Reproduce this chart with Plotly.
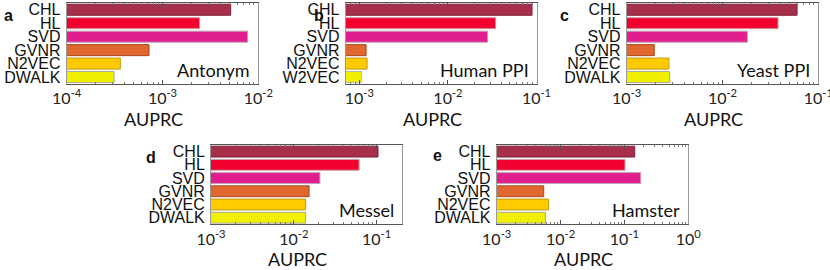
import plotly.graph_objects as go
import math

W, H = 830, 270

# ---------------- data ----------------
methods_a = ["CHL", "HL", "SVD", "GVNR", "N2VEC", "DWALK"]
values_a = [0.00515, 0.00244, 0.00774, 0.000723, 0.000363, 0.000312]

methods_b = ["CHL", "HL", "SVD", "GVNR", "N2VEC", "W2VEC"]
values_b = [0.089, 0.0345, 0.028, 0.00119, 0.00122, 0.00106]

methods_c = ["CHL", "HL", "SVD", "GVNR", "N2VEC", "DWALK"]
values_c = [0.060, 0.038, 0.0182, 0.00194, 0.00276, 0.00281]

methods_d = ["CHL", "HL", "SVD", "GVNR", "N2VEC", "DWALK"]
values_d = [0.104, 0.0615, 0.0207, 0.0153, 0.0139, 0.0139]

methods_e = ["CHL", "HL", "SVD", "GVNR", "N2VEC", "DWALK"]
values_e = [0.145, 0.102, 0.18, 0.00545, 0.0065, 0.0058]

datasets = ["Antonym", "Human PPI", "Yeast PPI", "Messel", "Hamster"]
panel_letters = ["a", "b", "c", "d", "e"]
x_title = "AUPRC"

ticks_a = [1e-4, 1e-3, 1e-2]
ticks_b = [1e-3, 1e-2, 1e-1]
ticks_c = [1e-3, 1e-2, 1e-1]
ticks_d = [1e-3, 1e-2, 1e-1]
ticks_e = [1e-3, 1e-2, 1e-1, 1e0]
ticktext_a = ["10<sup>-4</sup>", "10<sup>-3</sup>", "10<sup>-2</sup>"]
ticktext_b = ["10<sup>-3</sup>", "10<sup>-2</sup>", "10<sup>-1</sup>"]
ticktext_c = ["10<sup>-3</sup>", "10<sup>-2</sup>", "10<sup>-1</sup>"]
ticktext_d = ["10<sup>-3</sup>", "10<sup>-2</sup>", "10<sup>-1</sup>"]
ticktext_e = ["10<sup>-3</sup>", "10<sup>-2</sup>", "10<sup>-1</sup>", "10<sup>0</sup>"]

xlim_a = [1e-4, 1e-2]
xlim_b = [7e-4, 1e-1]
xlim_c = [1e-3, 1e-1]
xlim_d = [1e-3, 0.2]
xlim_e = [1e-3, 1e0]

# ---------------- styles ----------------
fill = {"CHL": "#a82f4c", "HL": "#f2002e", "SVD": "#e01e8e", "GVNR": "#e0672f",
        "N2VEC": "#ffcb00", "W2VEC": "#f0f000", "DWALK": "#f0f000"}
edge = {"CHL": "#7d2036", "HL": "#c9a0a8", "SVD": "#c0a0b4", "GVNR": "#a84a1c",
        "N2VEC": "#c49a10", "W2VEC": "#b8b8a0", "DWALK": "#a8a890"}

# panel boxes in pixels: (left, right, top, bottom)
boxes = [(66.7, 258.3, 3.0, 83.8), (345.7, 536.5, 3.0, 83.8), (626.7, 818.3, 3.0, 83.8),
         (211.0, 401.5, 145.0, 224.3), (496.7, 688.3, 145.0, 224.3)]
letter_pos = [(8, 15), (319, 16), (564, 15), (151, 157), (437, 156)]

panels = [
    (methods_a, values_a, ticks_a, ticktext_a, xlim_a),
    (methods_b, values_b, ticks_b, ticktext_b, xlim_b),
    (methods_c, values_c, ticks_c, ticktext_c, xlim_c),
    (methods_d, values_d, ticks_d, ticktext_d, xlim_d),
    (methods_e, values_e, ticks_e, ticktext_e, xlim_e),
]

def px(x):
    return x / W

def py(y):
    return 1 - y / H

fig = go.Figure()
annotations = []
LABEL_FONT = "Lato"

for i, (meths, vals, tv, tt, lim) in enumerate(panels):
    n = i + 1
    xa = "x" if n == 1 else f"x{n}"
    ya = "y" if n == 1 else f"y{n}"
    fig.add_trace(go.Bar(
        x=vals, y=meths, orientation="h", xaxis=xa, yaxis=ya,
        marker=dict(color=[fill[m] for m in meths],
                    line=dict(color=[edge[m] for m in meths], width=1)),
        width=0.82, showlegend=False, hoverinfo="skip",
    ))
    l, r, t, b = boxes[i]
    lo, hi = math.log10(lim[0]), math.log10(lim[1])
    minor_vals = []
    for e in range(int(math.floor(lo)), int(math.ceil(hi)) + 1):
        for k in range(2, 10):
            v = k * 10 ** e
            if lim[0] < v < lim[1]:
                minor_vals.append(v)
    xkey = "xaxis" if n == 1 else f"xaxis{n}"
    ykey = "yaxis" if n == 1 else f"yaxis{n}"
    fig.update_layout(**{
        xkey: dict(
            domain=[px(l), px(r)], anchor=ya, type="log", range=[lo, hi],
            automargin=False, ticklabeloverflow="allow",
            tickmode="array", tickvals=tv, ticktext=tt,
            ticks="inside", ticklen=4, tickcolor="#555", tickwidth=1,
            showline=True, linecolor="#555", linewidth=1, mirror="ticks",
            showgrid=False, zeroline=False,
            tickfont=dict(family=LABEL_FONT, size=16, color="#222"),
            minor=dict(tickmode="array", tickvals=minor_vals, ticks="inside",
                       ticklen=2, tickcolor="#777", showgrid=False),
        ),
        ykey: dict(
            domain=[py(b), py(t)], anchor=xa, autorange="reversed",
            type="category", tickmode="array", tickvals=meths, ticktext=meths,
            automargin=False,
            showline=True, linecolor="#999", linewidth=1, mirror=True,
            ticks="", showgrid=False, zeroline=False, ticklabelstandoff=2,
            tickfont=dict(family="Liberation Sans, Arial", size=16, color="#111"),
        ),
    })
    # dataset name inside panel
    annotations.append(dict(
        text=datasets[i], xref="paper", yref="paper",
        x=px(r - 6), y=py(b - 14), xanchor="right", yanchor="middle",
        showarrow=False, font=dict(family=LABEL_FONT, size=18, color="#111"),
    ))
    # x title
    annotations.append(dict(
        text=x_title, xref="paper", yref="paper",
        x=px((l + r) / 2 - 9), y=py(b + 35), xanchor="center", yanchor="middle",
        showarrow=False, font=dict(family=LABEL_FONT, size=18, color="#111"),
    ))
    # panel letter
    lx, ly = letter_pos[i]
    annotations.append(dict(
        text=f"<b>{panel_letters[i]}</b>", xref="paper", yref="paper",
        x=px(lx), y=py(ly), xanchor="center", yanchor="middle",
        showarrow=False, font=dict(family="Liberation Sans, Arial", size=16, color="#111"),
    ))

fig.update_layout(
    width=W, height=H, margin=dict(l=0, r=0, t=0, b=0),
    paper_bgcolor="white", plot_bgcolor="white",
    bargap=0.18, annotations=annotations, hovermode=False,
)

fig.write_html("out.html", config={"displayModeBar": False, "staticPlot": True},
               post_script="document.body.style.margin='0px';document.body.style.padding='0px';")
